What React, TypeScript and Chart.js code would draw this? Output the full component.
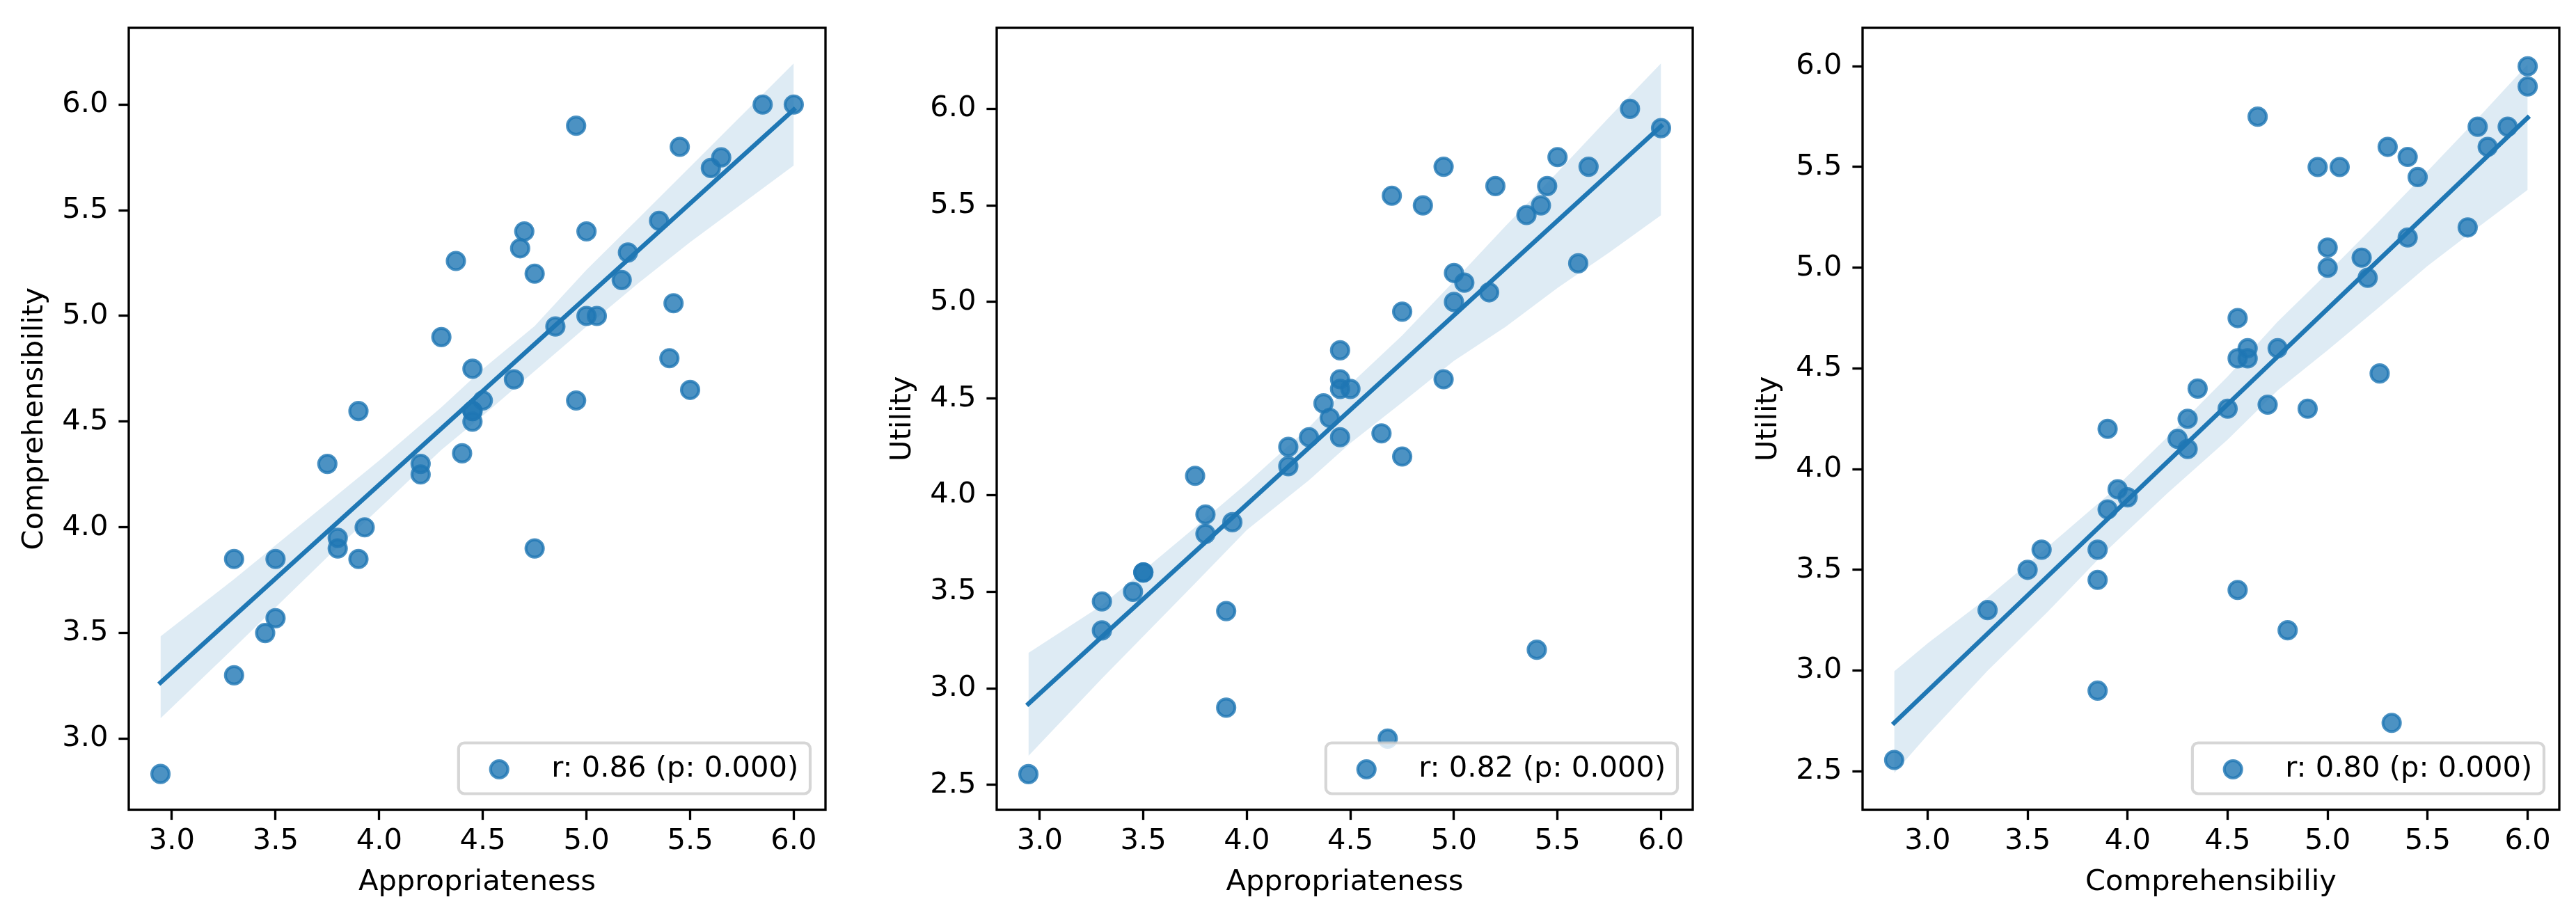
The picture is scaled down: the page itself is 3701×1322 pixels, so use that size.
import React, { useEffect, useRef } from "react";
import { Chart, registerables } from "chart.js";

Chart.register(...registerables);

// ---------------- DATA ----------------
const appropriateness = [
  6.0, 5.85, 4.95, 5.45, 5.65, 5.6, 5.35, 4.7, 5.0, 4.68, 4.37, 5.2, 4.75, 5.17, 5.42, 5.0, 5.05, 4.85, 4.3, 4.45, 5.4, 4.65,
  5.5, 4.5, 4.95, 4.45, 4.45, 4.45, 3.9, 4.4, 3.75, 4.2, 4.2, 3.93, 3.8, 3.8, 3.9, 4.75, 3.3, 3.5, 3.5, 3.45, 3.3, 2.945,
];
const comprehensibility = [
  6.0, 6.0, 5.9, 5.8, 5.75, 5.7, 5.45, 5.4, 5.4, 5.32, 5.26, 5.3, 5.2, 5.17, 5.06, 5.0, 5.0, 4.95, 4.9, 4.75, 4.8, 4.7,
  4.65, 4.6, 4.6, 4.55, 4.55, 4.5, 4.55, 4.35, 4.3, 4.3, 4.25, 4.0, 3.95, 3.9, 3.85, 3.9, 3.85, 3.85, 3.57, 3.5, 3.3, 2.833,
];
const utility = [
  5.9, 6.0, 5.7, 5.6, 5.7, 5.2, 5.45, 5.55, 5.15, 2.74, 4.475, 5.6, 4.95, 5.05, 5.5, 5.0, 5.1, 5.5, 4.3, 4.6, 3.2, 4.32,
  5.75, 4.55, 4.6, 4.75, 4.55, 4.3, 3.4, 4.4, 4.1, 4.25, 4.15, 3.86, 3.9, 3.8, 2.9, 4.2, 3.45, 3.6, 3.6, 3.5, 3.3, 2.556,
];

// regression lines (end points)
const fit1X = [2.945, 6.0];
const fit1Y = [3.265, 5.976];
const fit2X = [2.945, 6.0];
const fit2Y = [2.92, 5.91];
const fit3X = [2.833, 6.0];
const fit3Y = [2.74, 5.745];

// confidence bands
const band1X = [2.945, 3.3, 3.75, 4.0, 4.3, 4.5, 4.75, 5.0, 5.25, 5.5, 6.0];
const band1Upper = [3.484, 3.755, 4.115, 4.316, 4.568, 4.749, 4.952, 5.218, 5.461, 5.705, 6.195];
const band1Lower = [3.096, 3.43, 3.859, 4.089, 4.366, 4.528, 4.739, 4.95, 5.155, 5.349, 5.712];

const band2X = [2.945, 3.3, 3.75, 4.0, 4.3, 4.5, 4.75, 5.0, 5.25, 5.5, 5.75, 6.0];
const band2Upper = [3.183, 3.43, 3.834, 4.061, 4.351, 4.575, 4.827, 5.108, 5.394, 5.672, 5.957, 6.235];
const band2Lower = [2.65, 3.051, 3.544, 3.82, 4.078, 4.269, 4.48, 4.695, 4.872, 5.073, 5.256, 5.449];

const band3X = [2.833, 3.0, 3.3, 3.6, 3.9, 4.2, 4.5, 4.75, 5.0, 5.25, 5.5, 5.75, 6.0];
const band3Upper = [2.996, 3.135, 3.362, 3.613, 3.87, 4.16, 4.46, 4.732, 4.975, 5.224, 5.48, 5.741, 6.01];
const band3Lower = [2.49, 2.68, 2.999, 3.291, 3.6, 3.881, 4.146, 4.391, 4.59, 4.798, 5.009, 5.199, 5.387];

// ticks and labels
const xTicks = [3.0, 3.5, 4.0, 4.5, 5.0, 5.5, 6.0];
const yTicks1 = [3.0, 3.5, 4.0, 4.5, 5.0, 5.5, 6.0];
const yTicks2 = [2.5, 3.0, 3.5, 4.0, 4.5, 5.0, 5.5, 6.0];
const yTicks3 = [2.5, 3.0, 3.5, 4.0, 4.5, 5.0, 5.5, 6.0];
const xTitles = ["Appropriateness", "Appropriateness", "Comprehensibiliy"];
const yTitles = ["Comprehensibility", "Utility", "Utility"];
const legendLabels = ["r: 0.86 (p: 0.000)", "r: 0.82 (p: 0.000)", "r: 0.80 (p: 0.000)"];

// ---------------- STYLE ----------------
const FONT = "'DejaVu Sans', sans-serif";
const FS = 41.67;
const BLUE = "#1f77b4";
const PT = "rgba(31,119,180,0.8)";
const BAND = "rgba(31,119,180,0.15)";
const FIG_W = 3701;
const FIG_H = 1322;
const YAXIS_W = 184;
const AREA_TOP = 30;
const AREA_BOTTOM = 1163.5;
const RIGHT_PAD = 20;
const FIT_LW = 6.5;

type PanelCfg = {
  axisLeft: number;
  axisRight: number;
  xs: number[];
  ys: number[];
  fitX: number[];
  fitY: number[];
  bandX: number[];
  bandUpper: number[];
  bandLower: number[];
  xMin: number;
  xMax: number;
  yMin: number;
  yMax: number;
  yTicks: number[];
  xTitle: string;
  yTitle: string;
  legend: string;
};

const panels: PanelCfg[] = [
  {
    axisLeft: 185, axisRight: 1186,
    xs: appropriateness, ys: comprehensibility,
    fitX: fit1X, fitY: fit1Y, bandX: band1X, bandUpper: band1Upper, bandLower: band1Lower,
    xMin: 2.792, xMax: 6.153, yMin: 2.664, yMax: 6.363, yTicks: yTicks1,
    xTitle: xTitles[0], yTitle: yTitles[0], legend: legendLabels[0],
  },
  {
    axisLeft: 1432, axisRight: 2432,
    xs: appropriateness, ys: utility,
    fitX: fit2X, fitY: fit2Y, bandX: band2X, bandUpper: band2Upper, bandLower: band2Lower,
    xMin: 2.792, xMax: 6.153, yMin: 2.372, yMax: 6.419, yTicks: yTicks2,
    xTitle: xTitles[1], yTitle: yTitles[1], legend: legendLabels[1],
  },
  {
    axisLeft: 2676, axisRight: 3677,
    xs: comprehensibility, ys: utility,
    fitX: fit3X, fitY: fit3Y, bandX: band3X, bandUpper: band3Upper, bandLower: band3Lower,
    xMin: 2.675, xMax: 6.158, yMin: 2.309, yMax: 6.191, yTicks: yTicks3,
    xTitle: xTitles[2], yTitle: yTitles[2], legend: legendLabels[2],
  },
];

const zipXY = (xs: number[], ys: number[]) => xs.map((x, i) => ({ x, y: ys[i] }));

const framePlugin = {
  id: "frame",
  afterDatasetsDraw(chart: any) {
    const { ctx, chartArea } = chart;
    ctx.save();
    ctx.strokeStyle = "#000";
    ctx.lineWidth = 3.33;
    ctx.strokeRect(chartArea.left, chartArea.top, chartArea.right - chartArea.left, chartArea.bottom - chartArea.top);
    ctx.restore();
  },
};

const legendPlugin = {
  id: "corrLegend",
  afterDraw(chart: any) {
    const { ctx, chartArea } = chart;
    const ds = chart.data.datasets[3];
    const label: string = ds.label;
    ctx.save();
    ctx.font = `${FS}px ${FONT}`;
    const tw = ctx.measureText(label).width;
    const pad = 16.7;
    const handleLen = 83.3;
    const handleTextPad = 33.3;
    const w = pad * 2 + handleLen + handleTextPad + tw;
    const h = 73;
    const right = chartArea.right - 22;
    const bottom = chartArea.bottom - 23;
    const left = right - w;
    const top = bottom - h;
    const r = 8.3;
    ctx.beginPath();
    ctx.moveTo(left + r, top);
    ctx.lineTo(right - r, top);
    ctx.arcTo(right, top, right, top + r, r);
    ctx.lineTo(right, bottom - r);
    ctx.arcTo(right, bottom, right - r, bottom, r);
    ctx.lineTo(left + r, bottom);
    ctx.arcTo(left, bottom, left, bottom - r, r);
    ctx.lineTo(left, top + r);
    ctx.arcTo(left, top, left + r, top, r);
    ctx.closePath();
    ctx.fillStyle = "rgba(255,255,255,0.8)";
    ctx.fill();
    ctx.lineWidth = 4.17;
    ctx.strokeStyle = "rgba(204,204,204,0.8)";
    ctx.stroke();

    ctx.beginPath();
    ctx.arc(left + pad + handleLen / 2, top + 38, 12.5, 0, Math.PI * 2);
    ctx.fillStyle = PT;
    ctx.fill();
    ctx.lineWidth = 4.17;
    ctx.strokeStyle = PT;
    ctx.stroke();

    ctx.fillStyle = "#000";
    ctx.textAlign = "left";
    ctx.textBaseline = "alphabetic";
    ctx.fillText(label, left + pad + handleLen + handleTextPad, top + 48);
    ctx.restore();
  },
};

function Panel({ cfg }: { cfg: PanelCfg }) {
  const ref = useRef<HTMLCanvasElement>(null);
  const canvasLeft = cfg.axisLeft - YAXIS_W;
  const canvasW = YAXIS_W + (cfg.axisRight - cfg.axisLeft) + RIGHT_PAD;

  useEffect(() => {
    const font = { family: FONT, size: FS };
    const chart = new Chart(ref.current as HTMLCanvasElement, {
      type: "scatter",
      data: {
        datasets: [
          {
            type: "line",
            label: "ci-upper",
            data: zipXY(cfg.bandX, cfg.bandUpper),
            showLine: true,
            borderWidth: 0,
            borderColor: "rgba(0,0,0,0)",
            pointRadius: 0,
            backgroundColor: BAND,
            fill: 1,
            tension: 0,
          } as any,
          {
            type: "line",
            label: "ci-lower",
            data: zipXY(cfg.bandX, cfg.bandLower),
            showLine: true,
            borderWidth: 0,
            borderColor: "rgba(0,0,0,0)",
            pointRadius: 0,
            fill: false,
            tension: 0,
          } as any,
          {
            type: "line",
            label: "fit",
            data: zipXY(cfg.fitX, cfg.fitY),
            showLine: true,
            borderWidth: FIT_LW,
            borderColor: BLUE,
            borderCapStyle: "square",
            pointRadius: 0,
            fill: false,
            tension: 0,
          } as any,
          {
            type: "scatter",
            label: cfg.legend,
            data: zipXY(cfg.xs, cfg.ys),
            pointRadius: 12.5,
            pointBorderWidth: 4.17,
            backgroundColor: PT,
            borderColor: PT,
            pointStyle: "circle",
          } as any,
        ],
      },
      options: {
        responsive: false,
        animation: false,
        devicePixelRatio: 1,
        events: [],
        elements: { line: { borderWidth: FIT_LW, borderCapStyle: "square" } },
        layout: { padding: { top: AREA_TOP, right: RIGHT_PAD, left: 0, bottom: 0 } },
        plugins: { legend: { display: false }, tooltip: { enabled: false } },
        scales: {
          x: {
            type: "linear",
            min: cfg.xMin,
            max: cfg.xMax,
            afterFit: (s: any) => {
              s.height = FIG_H - AREA_BOTTOM;
            },
            afterBuildTicks: (s: any) => {
              s.ticks = xTicks.map((v) => ({ value: v }));
            },
            ticks: {
              callback: (v: any) => Number(v).toFixed(1),
              font,
              color: "#000",
              padding: 6.5,
              maxRotation: 0,
              autoSkip: false,
            },
            grid: { drawOnChartArea: false, drawTicks: true, tickLength: 14.6, tickWidth: 3.33, tickColor: "#000" },
            border: { display: false },
            title: { display: true, text: cfg.xTitle, font, color: "#000", padding: { top: 0, bottom: 29 } },
          },
          y: {
            type: "linear",
            min: cfg.yMin,
            max: cfg.yMax,
            afterFit: (s: any) => {
              s.width = YAXIS_W;
            },
            afterBuildTicks: (s: any) => {
              s.ticks = cfg.yTicks.map((v) => ({ value: v }));
            },
            ticks: {
              callback: (v: any) => Number(v).toFixed(1),
              font,
              color: "#000",
              padding: 15,
              autoSkip: false,
            },
            grid: { drawOnChartArea: false, drawTicks: true, tickLength: 14.6, tickWidth: 3.33, tickColor: "#000" },
            border: { display: false },
            title: { display: true, text: cfg.yTitle, font, color: "#000", padding: { top: 24.6, bottom: 0 } },
          },
        },
      } as any,
      plugins: [framePlugin, legendPlugin],
    });
    return () => chart.destroy();
  }, []);

  return (
    <canvas
      ref={ref}
      width={canvasW}
      height={FIG_H}
      style={{ position: "absolute", left: canvasLeft, top: 0, width: canvasW, height: FIG_H }}
    />
  );
}

export default function App() {
  return (
    <div
      style={{
        position: "absolute",
        left: 0,
        top: 0,
        width: FIG_W,
        height: FIG_H,
        background: "#fff",
        overflow: "hidden",
      }}
    >
      {panels.map((p, i) => (
        <Panel key={i} cfg={p} />
      ))}
    </div>
  );
}
